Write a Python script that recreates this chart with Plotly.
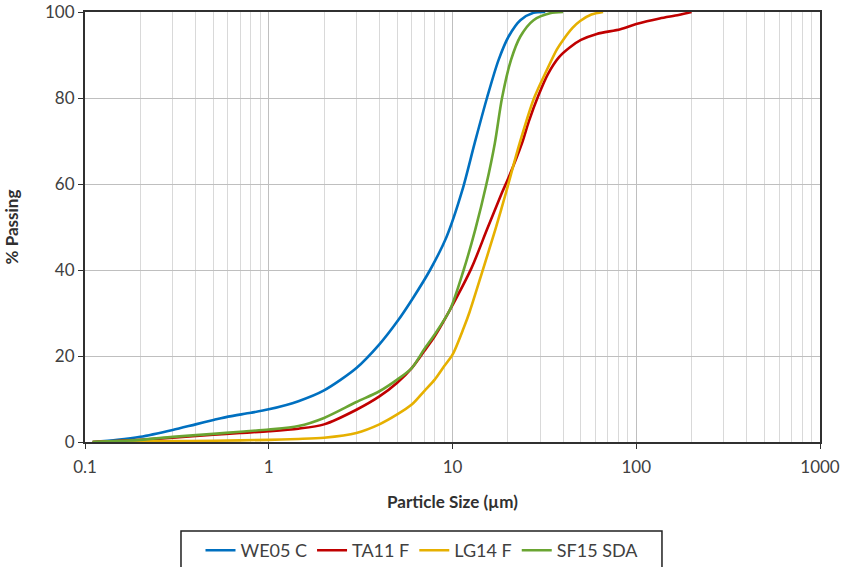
import plotly.graph_objects as go

# WE05 C
we05_x = [0.11, 0.15, 0.2, 0.3, 0.4, 0.5, 0.6, 0.8, 1.0, 1.45, 2.0, 3.0, 4.0, 5.0, 6.1, 7.55, 9.3, 11.3, 13.2, 15.4, 17.8, 20.2, 23.4, 27.6, 32.0]
we05_y = [0.0, 0.5, 1.2, 2.8, 4.1, 5.1, 5.9, 6.8, 7.6, 9.5, 12.0, 17.2, 22.7, 28.0, 33.5, 40.0, 47.8, 58.5, 69.5, 80.0, 88.8, 94.3, 98.1, 99.8, 100.0]

# TA11 F
ta11_x = [0.11, 0.2, 0.3, 0.5, 0.7, 1.0, 1.45, 2.0, 3.0, 4.0, 5.0, 6.0, 7.0, 8.0, 9.7, 12.7, 15.4, 18.6, 20.2, 23.9, 26.0, 29.3, 33.0, 38.0, 43.6, 50.0, 61.0, 82.0, 100.0, 134.0, 170.0, 200.0]
ta11_y = [0.0, 0.5, 1.0, 1.7, 2.1, 2.5, 3.1, 4.1, 7.5, 10.6, 13.8, 17.2, 21.1, 24.6, 30.8, 40.5, 49.4, 58.0, 61.5, 69.5, 74.5, 80.5, 85.5, 89.5, 91.8, 93.5, 94.9, 96.0, 97.2, 98.5, 99.3, 100.0]

# LG14 F
lg14_x = [0.11, 0.3, 0.5, 1.0, 1.45, 2.0, 3.0, 4.0, 5.0, 6.0, 7.0, 8.0, 9.0, 10.0, 11.5, 12.4, 14.5, 17.1, 19.4, 23.2, 27.8, 32.6, 37.0, 40.0, 45.0, 49.5, 57.0, 66.0]
lg14_y = [0.0, 0.2, 0.3, 0.5, 0.7, 1.0, 2.1, 4.1, 6.4, 8.7, 11.8, 14.5, 17.6, 20.3, 26.5, 30.3, 39.5, 49.4, 57.5, 69.5, 80.0, 86.5, 91.3, 93.5, 96.3, 97.9, 99.4, 100.0]

# SF15 SDA
sf15_x = [0.11, 0.2, 0.3, 0.5, 0.7, 1.0, 1.45, 2.0, 3.0, 4.0, 5.0, 6.0, 7.0, 8.0, 9.7, 11.5, 13.3, 15.3, 17.0, 18.6, 20.8, 23.4, 27.6, 33.9, 40.0]
sf15_y = [0.0, 0.5, 1.2, 1.9, 2.4, 2.9, 3.7, 5.6, 9.3, 11.8, 14.5, 17.2, 21.5, 25.0, 30.8, 40.0, 49.4, 60.0, 69.5, 80.0, 88.8, 94.3, 98.1, 99.7, 100.0]

series = [
    ("WE05 C", we05_x, we05_y, "#0070C0"),
    ("TA11 F", ta11_x, ta11_y, "#C00000"),
    ("LG14 F", lg14_x, lg14_y, "#E6B000"),
    ("SF15 SDA", sf15_x, sf15_y, "#6AA532"),
]

x_ticks = [0.1, 1, 10, 100, 1000]
x_tick_text = ["0.1", "1", "10", "100", "1000"]
y_ticks = [0, 20, 40, 60, 80, 100]

fig = go.Figure()
for name, xs, ys, col in series:
    fig.add_trace(go.Scatter(x=xs, y=ys, name=name, mode="lines",
                             line=dict(color=col, width=2.6, shape="spline", smoothing=0.8)))

# legend frame (wider than plotly's own legend border, as in the reference)
fig.add_shape(type="rect", xref="paper", yref="paper",
              x0=0.1306, x1=0.785, y0=-0.31, y1=-0.207,
              line=dict(color="#202020", width=1.5), fillcolor="rgba(0,0,0,0)", layer="above")

font_fam = "Lato, Open Sans, sans-serif"
fig.update_layout(
    width=844, height=567,
    margin=dict(l=85, r=24, t=12, b=125),
    plot_bgcolor="white", paper_bgcolor="white",
    font=dict(family=font_fam, size=17, color="#404040"),
    showlegend=True,
    legend=dict(orientation="h", xref="container", yref="container",
                x=0.5, xanchor="center", y=1 - 532 / 567, yanchor="top",
                borderwidth=0, bgcolor="rgba(0,0,0,0)",
                font=dict(size=18, color="#404040"),
                itemwidth=30, tracegroupgap=0),
    xaxis=dict(type="log", range=[-1, 3], automargin=False,
               tickvals=x_ticks, ticktext=x_tick_text,
               showgrid=True, gridcolor="#BFBFBF", gridwidth=1,
               minor=dict(dtick="D1", showgrid=True, gridcolor="#D9D9D9", gridwidth=1, ticks=""),
               showline=True, linecolor="#303030", linewidth=2, mirror=True,
               ticks="outside", ticklen=5, tickcolor="#303030",
               ticklabelstandoff=4,
               title=dict(text="<b>Particle Size (µm)</b>", font=dict(size=17, color="#303030"), standoff=20),
               zeroline=False),
    yaxis=dict(range=[0, 100], tickvals=y_ticks, automargin=False,
               showgrid=True, gridcolor="#BFBFBF", gridwidth=1,
               showline=True, linecolor="#303030", linewidth=2, mirror=True,
               ticks="outside", ticklen=5, tickcolor="#303030",
               title=dict(text="<b>% Passing</b>", font=dict(size=17, color="#303030"), standoff=22),
               zeroline=False),
)

fig.write_html("out.html")
